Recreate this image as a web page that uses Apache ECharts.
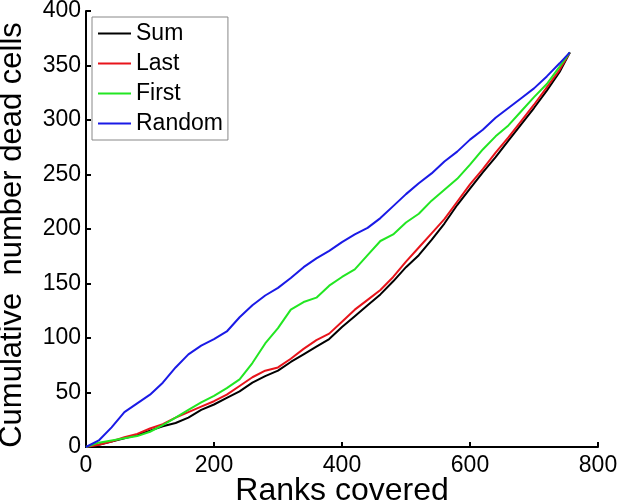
<!DOCTYPE html>
<html>
<head>
<meta charset="utf-8">
<script src="https://cdn.jsdelivr.net/npm/echarts@6/dist/echarts.min.js"></script>
<style>
  html, body { margin: 0; padding: 0; background: #fff; }
  #chart { width: 617px; height: 502px; }
</style>
</head>
<body>
<div id="chart"></div>
<script>
// ranks covered (x) shared by all curves
const ranks = [0, 20, 40, 60, 80, 100, 120, 140, 160, 180, 200, 220, 240, 260, 280, 300, 320, 340, 360, 380,
  400, 420, 440, 460, 480, 500, 520, 540, 560, 580, 600, 620, 640, 660, 680, 700, 720, 740, 756];

const sumVals = [0, 2, 5, 8, 11, 15, 19, 22, 27, 34, 39, 45, 51, 59, 65, 70, 78, 85, 92, 99,
  110, 120, 130, 140, 152, 165, 176, 190, 205, 222, 237, 252, 266, 281, 296, 311, 327, 344, 362];
const lastVals = [0, 2, 5, 9, 12, 17, 21, 27, 32, 37, 42, 48, 56, 64, 70, 73, 81, 90, 98, 104,
  115, 126, 135, 144, 156, 170, 183, 196, 209, 225, 241, 255, 270, 284, 299, 314, 330, 346, 362];
const firstVals = [0, 4, 6, 8, 10, 14, 20, 27, 34, 41, 47, 54, 62, 77, 95, 109, 126, 133, 137, 148,
  156, 163, 176, 189, 195, 206, 214, 226, 236, 246, 259, 273, 285, 295, 308, 321, 333, 349, 362];
const randomVals = [0, 6, 18, 32, 40, 48, 59, 73, 85, 93, 99, 106, 119, 130, 139, 146, 155, 165, 173, 180,
  188, 195, 201, 210, 221, 232, 242, 251, 262, 271, 282, 291, 302, 311, 320, 329, 340, 352, 362];

const seriesNames = ['Sum', 'Last', 'First', 'Random'];
const seriesColors = ['#000000', '#e8141b', '#22e622', '#1a1ae6'];
const seriesVals = [sumVals, lastVals, firstVals, randomVals];

const font = '"Liberation Sans", Arial, sans-serif';

const myChart = echarts.init(document.getElementById('chart'));
const option = {
  backgroundColor: '#fff',
  animation: false,
  grid: {left: 86, right: 19, top: 11, bottom: 55, outerBoundsMode: 'none', containLabel: false},
  legend: {
    orient: 'vertical',
    left: 92,
    top: 17,
    padding: [5, 5, 5, 6],
    itemGap: 7,
    itemWidth: 33,
    itemHeight: 2,
    icon: 'rect',
    borderColor: '#888',
    borderWidth: 1,
    backgroundColor: '#fff',
    textStyle: {fontFamily: font, fontSize: 23, color: '#000', lineHeight: 22},
    data: seriesNames
  },
  xAxis: {
    type: 'value',
    min: 0,
    max: 800,
    interval: 200,
    name: 'Ranks covered',
    nameLocation: 'middle',
    nameGap: 28,
    nameMoveOverlap: false,
    nameTextStyle: {fontFamily: font, fontSize: 32, color: '#000'},
    axisLine: {lineStyle: {color: '#000', width: 2}},
    axisTick: {inside: true, length: 5, lineStyle: {color: '#000', width: 2}},
    axisLabel: {fontFamily: font, fontSize: 23, color: '#000', margin: 7},
    splitLine: {show: false}
  },
  yAxis: {
    type: 'value',
    min: 0,
    max: 400,
    interval: 50,
    name: 'Cumulative  number dead cells',
    nameLocation: 'middle',
    nameGap: 58,
    nameTextStyle: {fontFamily: font, fontSize: 31, color: '#000', padding: [0, 12, 0, 0]},
    axisLine: {show: true, lineStyle: {color: '#000', width: 2}},
    axisTick: {show: true, inside: true, length: 5, lineStyle: {color: '#000', width: 2}},
    axisLabel: {fontFamily: font, fontSize: 23, color: '#000', margin: 5},
    splitLine: {show: false}
  },
  series: seriesNames.map((name, k) => {
    return {
      name: name,
      type: 'line',
      symbol: 'none',
      color: seriesColors[k],
      lineStyle: {width: 2, color: seriesColors[k]},
      data: ranks.map((r, i) => [r, seriesVals[k][i]])
    }
  })
};

myChart.setOption(option);
</script>
</body>
</html>
